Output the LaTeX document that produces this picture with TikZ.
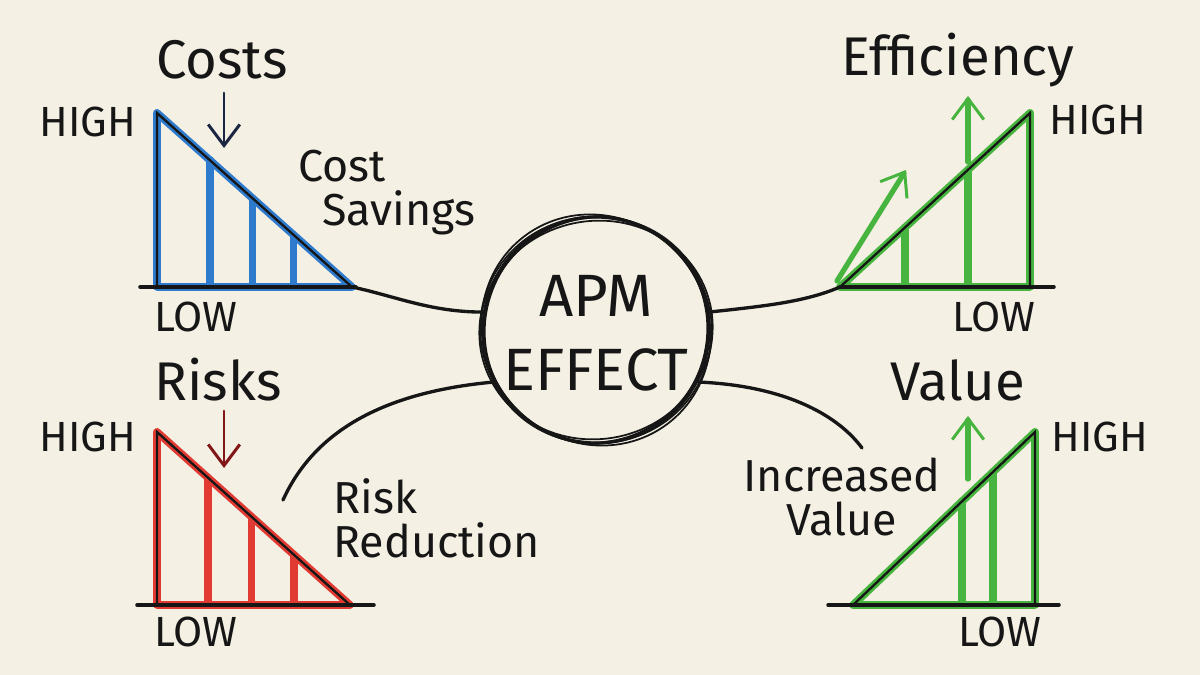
\documentclass[tikz,border=0pt]{standalone}
\usepackage{fontspec}
\setmainfont{Fira Sans}
\usetikzlibrary{arrows.meta,calc}
\definecolor{Paper}{RGB}{245,240,228}
\definecolor{Ink}{RGB}{22,22,22}
\definecolor{CostBlue}{RGB}{46,122,204}
\definecolor{RiskRed}{RGB}{224,58,50}
\definecolor{GainGreen}{RGB}{70,180,62}
\definecolor{Navy}{RGB}{28,38,66}
\definecolor{DarkRed}{RGB}{128,22,22}

\begin{document}
\begin{tikzpicture}[x=0.02cm,y=-0.02cm,
  every node/.style={text=Ink,inner sep=0pt},
  tag/.style={font=\fontsize{24}{26}\selectfont},
  title/.style={font=\fontsize{31}{33}\selectfont},
  note/.style={font=\fontsize{25.5}{25}\selectfont},
  bar/.style={line width=4.4pt,line cap=round,line join=round},
  pen/.style={line width=1.3pt,draw=Ink,line cap=round},
  axis/.style={line width=2pt,draw=Ink,line cap=round},
  link/.style={line width=1.9pt,draw=Ink,line cap=round},
  tip/.style={line width=1.7pt,line cap=round,
              -{Straight Barb[length=12pt,width=18pt,line width=1.7pt]}}]
  \fill[Paper] (0,0) rectangle (1200,675);
  \useasboundingbox (0,0) rectangle (1200,675);

  % centre
  \node (apm) [circle,minimum size=4.52cm,draw=Ink,line width=1.8pt] at (596,330) {};
  \foreach \a/\rx/\ry in {12/117/109,-18/111/114,40/115/111,75/113/116,-50/118/112}
    \draw[line width=1pt,Ink,rotate around={\a:(apm.center)}]
      (apm.center) ellipse [x radius=\rx,y radius=\ry];
  \node (apmtxt) [font=\fontsize{34}{42}\selectfont,align=center] at (596,333) {APM\\EFFECT};

  % costs (top left)
  \coordinate (cH) at (157,113);
  \coordinate (cO) at (157,287);
  \coordinate (cE) at (352,287);
  \draw[bar,CostBlue] (cH) -- (cO) -- (cE) -- cycle;
  \foreach \t in {0.27,0.49,0.70} {
    \path ($(cH)!\t!(cE)$) coordinate (m);
    \draw[bar,CostBlue] (m) -- (m |- cO);
  }
  \draw[pen] (cO) -- (cH) -- (cE);
  \draw[axis] ($(cO)+(-17,0)$) -- ($(cE)+(4,0)$);
  \node (costs) [title] at (222,60) {Costs};
  \coordinate (cA1) at (224,93);
  \coordinate (cA2) at (224,148);
  \draw[tip,Navy] (cA1) -- (cA2);
  \node (chigh) [tag] at (88,122) {HIGH};
  \node (clow) [tag] at (196,317) {LOW};
  \node (saving) [note,align=left,anchor=west] at (298,193) {Cost\\\hspace*{0.48cm}Savings};

  % efficiency (top right)
  \coordinate (eE) at (840,287);
  \coordinate (eT) at (1030,113);
  \coordinate (eC) at (1030,287);
  \draw[bar,GainGreen] (eE) -- (eT) -- (eC) -- cycle;
  \foreach \t in {0.342,0.674} {
    \path ($(eE)!\t!(eT)$) coordinate (m);
    \draw[bar,GainGreen] (m) -- (m |- eC);
  }
  \draw[pen] (eE) -- (eT) -- (eC);
  \draw[axis] (eE) -- ($(eC)+(24,0)$);
  \coordinate (eA1) at (968,162);
  \coordinate (eA2) at (968,96);
  \draw[tip,GainGreen,line width=3pt] (eA1) -- (eA2);
  \coordinate (eB1) at (837,281);
  \coordinate (eB2) at (906,170);
  \draw[tip,GainGreen,line width=3pt] (eB1) -- (eB2);
  \node (effic) [title] at (958,60) {Efficiency};
  \node (ehigh) [tag,anchor=west] at (1049,120) {HIGH};
  \node (elow) [tag] at (994,317) {LOW};

  % risks (bottom left)
  \coordinate (rH) at (157,432);
  \coordinate (rO) at (157,605);
  \coordinate (rE) at (350,605);
  \draw[bar,RiskRed] (rH) -- (rO) -- (rE) -- cycle;
  \foreach \t in {0.264,0.49,0.71} {
    \path ($(rH)!\t!(rE)$) coordinate (m);
    \draw[bar,RiskRed] (m) -- (m |- rO);
  }
  \draw[pen] (rO) -- (rH) -- (rE);
  \draw[axis] ($(rO)+(-20,0)$) -- ($(rE)+(24,0)$);
  \node (risks) [title] at (218,380) {Risks};
  \coordinate (rA1) at (224,411);
  \coordinate (rA2) at (224,468);
  \draw[tip,DarkRed] (rA1) -- (rA2);
  \node (rhigh) [tag] at (88,437) {HIGH};
  \node (rlow) [tag] at (196,632) {LOW};
  \node (reduct) [note,align=left,anchor=west] at (333,518) {Risk\\Reduction};

  % value (bottom right)
  \coordinate (vE) at (853,605);
  \coordinate (vT) at (1035,432);
  \coordinate (vC) at (1035,605);
  \draw[bar,GainGreen] (vE) -- (vT) -- (vC) -- cycle;
  \foreach \t in {0.60,0.77} {
    \path ($(vE)!\t!(vT)$) coordinate (m);
    \draw[bar,GainGreen] (m) -- (m |- vC);
  }
  \draw[pen] (vE) -- (vT) -- (vC);
  \draw[axis] ($(vE)+(-25,0)$) -- ($(vC)+(24,0)$);
  \coordinate (vA1) at (968,479);
  \coordinate (vA2) at (968,416);
  \draw[tip,GainGreen,line width=3pt] (vA1) -- (vA2);
  \node (value) [title] at (958,380) {Value};
  \node (vhigh) [tag,anchor=west] at (1051,437) {HIGH};
  \node (vlow) [tag] at (1000,632) {LOW};
  \node (incval) [note,align=center] at (842,497) {Increased\\Value};

  % links to the centre
  \coordinate (rEnd) at (283,500);
  \coordinate (vEnd) at (862,448);
  \draw[link] (cE) .. controls (395,296) and (430,312) .. (apm.171);
  \draw[link] (apm.9) .. controls (765,306) and (805,302) .. (eE);
  \draw[link] (apm.207) .. controls (385,392) and (315,430) .. (rEnd);
  \draw[link] (apm.333) .. controls (790,386) and (840,418) .. (vEnd);
\end{tikzpicture}
\end{document}
